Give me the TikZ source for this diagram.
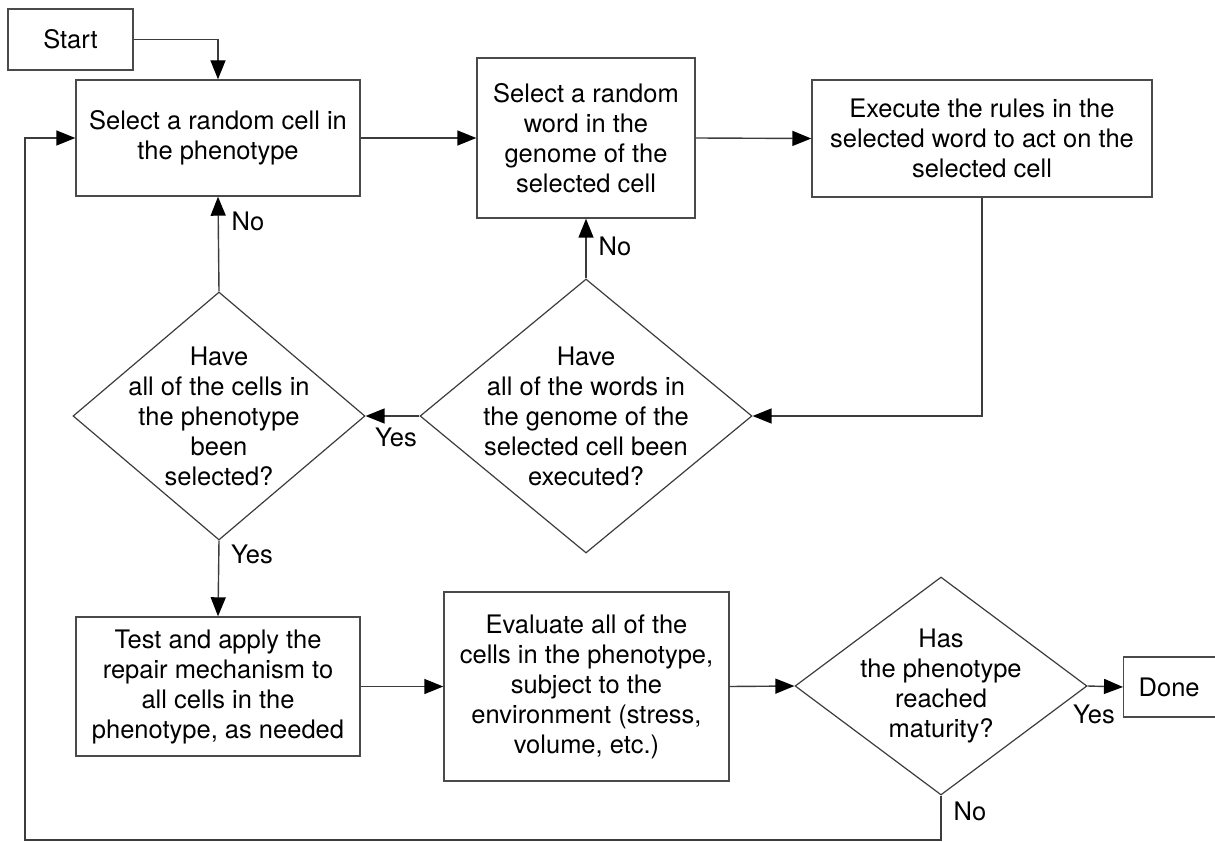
\documentclass[tikz,border=0pt]{standalone}
\usepackage{fontspec}
\setmainfont{TeX Gyre Heros}
\usetikzlibrary{arrows.meta,shapes.geometric}
\definecolor{linegray}{HTML}{3C3C3C}
\definecolor{boxgray}{HTML}{4A4A4A}
\begin{document}
\begin{tikzpicture}[x=1pt,y=-1pt,
  every node/.style={font=\fontsize{25.5}{30}\selectfont, text=black},
  box/.style={draw=boxgray, line width=1.4pt, rectangle, inner sep=0pt, align=center},
  dia/.style={draw=linegray, line width=1.2pt, diamond, inner sep=0pt},
  qtext/.style={align=center, inner sep=0pt},
  arr/.style={draw=linegray, line width=1.4pt,
    -{Triangle[length=19pt,width=15pt,fill=black,color=black]}},
  lbl/.style={inner sep=0pt}]
\useasboundingbox (0,0) rectangle (1215,842);

% process boxes
\node[box, minimum width=125, minimum height=61] (start) at (70.5,39.5) {Start};
\node[box, minimum width=284, minimum height=116] (sel) at (218,138)
  {Select a random cell in\\the phenotype};
\node[box, minimum width=218, minimum height=160] (word) at (586,138)
  {Select a random\\word in the\\genome of the\\selected cell};
\node[box, minimum width=340, minimum height=117] (exec) at (982,138.5)
  {Execute the rules in the\\selected word to act on the\\selected cell};
\node[box, minimum width=284, minimum height=139] (repair) at (218,686.5)
  {Test and apply the\\repair mechanism to\\all cells in the\\phenotype, as needed};
\node[box, minimum width=285, minimum height=189] (eval) at (586.5,686.5)
  {Evaluate all of the\\cells in the phenotype,\\subject to the\\environment (stress,\\volume, etc.)};
\node[box, anchor=west, minimum width=150, minimum height=60, text width=120pt,
      inner xsep=15pt, align=left] (done) at (1123,687) {Done};

% decisions
\node[dia, minimum width=292, minimum height=248] (allcells) at (219,416) {};
\node[qtext] at (allcells) {Have\\all of the cells in\\the phenotype\\been\\selected?};
\node[dia, minimum width=332, minimum height=274] (allwords) at (586,416) {};
\node[qtext] at (allwords) {Have\\all of the words in\\the genome of the\\selected cell been\\executed?};
\node[dia, minimum width=292, minimum height=218] (mature) at (941,686) {};
\node[qtext] at (mature) {Has\\the phenotype\\reached\\maturity?};

% return path along the left edge
\coordinate (loopc) at (25,840);

% connectors
\draw[arr] (start.east) -| (sel.north);
\draw[arr] (sel.east) -- (word.west);
\draw[arr] (word.east) -- (exec.west);
\draw[arr] (exec.south) |- (allwords.east);
\draw[arr] (allwords.west) -- (allcells.east);
\draw[arr] (allwords.north) -- (word.south);
\draw[arr] (allcells.north) -- (sel.south);
\draw[arr] (allcells.south) -- (repair.north);
\draw[arr] (repair.east) -- (eval.west);
\draw[arr] (eval.east) -- (mature.west);
\draw[arr] (mature.east) -- (done.west);
\draw[arr] (mature.south) |- (loopc) |- (sel.west);

% branch labels
\node[lbl] at (248,221) {No};
\node[lbl] at (615,246) {No};
\node[lbl] at (396,437) {Yes};
\node[lbl] at (252,554) {Yes};
\node[lbl] at (1094,714) {Yes};
\node[lbl] at (970,811) {No};
\end{tikzpicture}
\end{document}
